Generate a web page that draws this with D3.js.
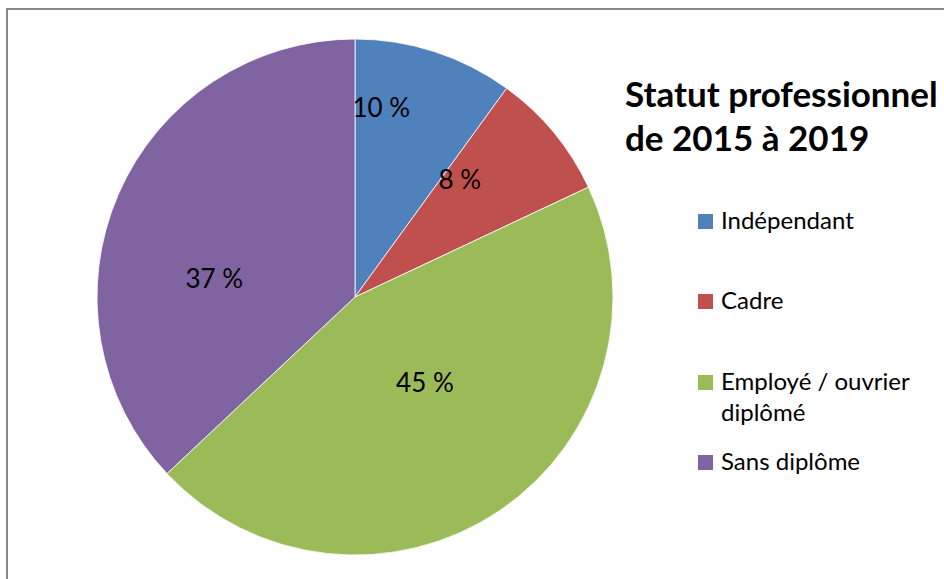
<!DOCTYPE html>
<html>
<head>
<meta charset="utf-8">
<script src="https://cdn.jsdelivr.net/npm/d3@7"></script>
<style>
	body { margin: 0; background: #fff; }
	svg { display: block; font-family: Lato, "Open Sans", sans-serif; }
</style>
</head>
<body>
<svg id="chart" width="944" height="579"></svg>
<script>
// data
var categories = ["Indépendant", "Cadre", "Employé / ouvrier diplômé", "Sans diplôme"];
var legendLines = [["Indépendant"], ["Cadre"], ["Employé / ouvrier", "diplômé"], ["Sans diplôme"]];
var shares = [10, 8, 45, 37];
var titleLines = ["Statut professionnel", "de 2015 à 2019"];

var colors = ["#4f81bd", "#c0504d", "#9bbb59", "#8064a2"];
// where each label sits: fraction along the slice angle, fraction of the radius (Excel "best fit")
var labelPlace = [[0.22, 0.74], [0.2, 0.61], [0.47, 0.43], [0.38, 0.55]];

var svg = d3.select("#chart");
var cx = 355, cy = 297, r = 258;

svg.append("rect")
	.attr("x", 7).attr("y", 9)
	.attr("width", 1000).attr("height", 1000)
	.attr("fill", "none")
	.attr("stroke", "#898989")
	.attr("stroke-width", 2);

var pie = d3.pie().sort(null).value(function(d){ return d; });
var arcs = pie(shares);
var arc = d3.arc().innerRadius(0).outerRadius(r);

var g = svg.append("g").attr("transform", "translate(" + cx + "," + cy + ")");

g.selectAll("path.slice")
	.data(arcs)
	.enter()
	.append("path")
	.attr("class", "slice")
	.attr("d", arc)
	.attr("fill", function(d, i){ return colors[i]; })
	.attr("stroke", "#fff")
	.attr("stroke-width", 0.8);

g.selectAll("text.lbl")
	.data(arcs)
	.enter()
	.append("text")
	.attr("class", "lbl")
	.attr("text-anchor", "middle")
	.attr("font-size", 26)
	.attr("fill", "#000")
	.attr("transform", function(d, i){
		var p = labelPlace[i];
		var a = d.startAngle + (d.endAngle - d.startAngle) * p[0];
		var rr = r * p[1];
		return "translate(" + (rr * Math.sin(a)) + "," + (-rr * Math.cos(a) + 9) + ")";
	})
	.text(function(d){ return d.data + " %"; });

// title
svg.append("g")
	.selectAll("text")
	.data(titleLines)
	.enter()
	.append("text")
	.attr("x", 625)
	.attr("y", function(d, i){ return 107 + i * 44; })
	.attr("font-size", 35)
	.attr("font-weight", "bold")
	.attr("fill", "#000")
	.text(function(d){ return d; });

// legend
var legendY = [214, 294, 375, 455];
var leg = svg.append("g")
	.selectAll("g")
	.data(categories)
	.enter()
	.append("g")
	.attr("transform", function(d, i){ return "translate(698," + legendY[i] + ")"; });

leg.append("rect")
	.attr("width", 15).attr("height", 15)
	.attr("fill", function(d, i){ return colors[i]; });

leg.append("text")
	.attr("font-size", 24)
	.attr("fill", "#000")
	.selectAll("tspan")
	.data(function(d, i){ return legendLines[i]; })
	.enter()
	.append("tspan")
	.attr("x", 23)
	.attr("y", function(d, j){ return 15 + j * 31; })
	.text(function(d){ return d; });
</script>
</body>
</html>
